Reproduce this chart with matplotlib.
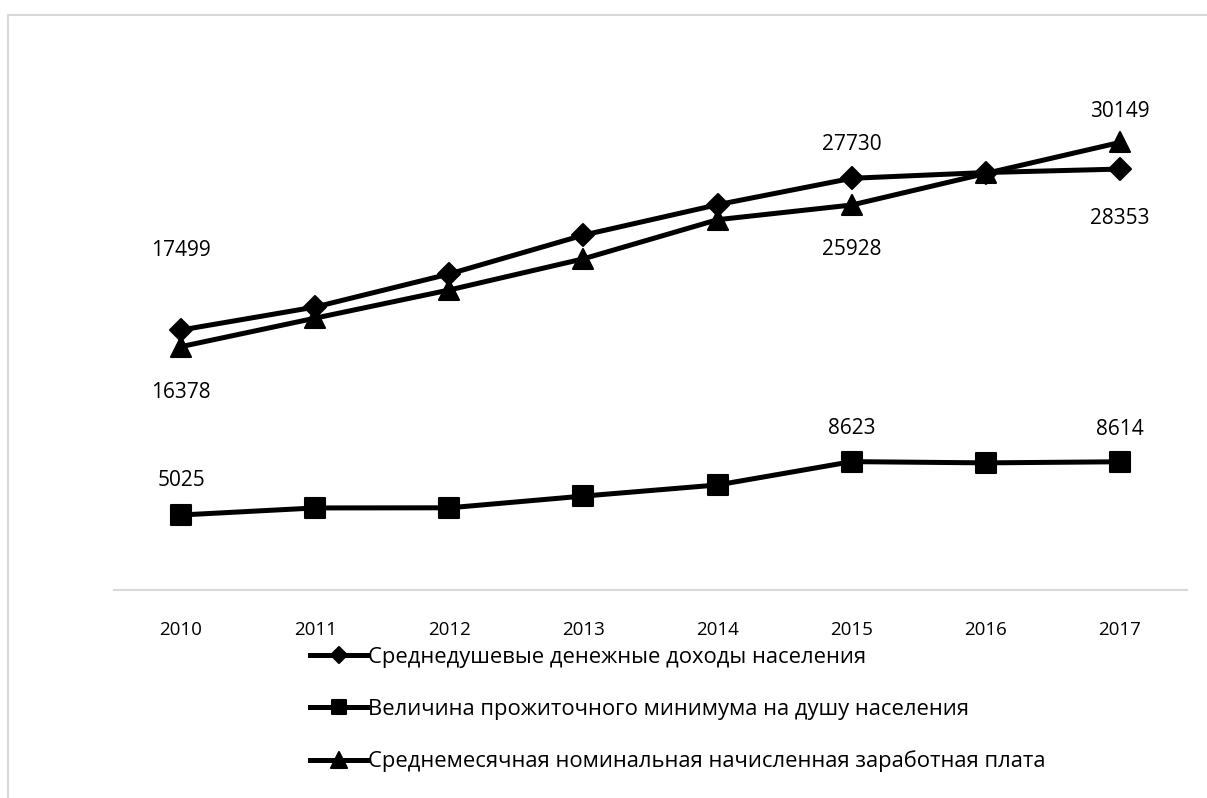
import matplotlib
matplotlib.use("Agg")
import matplotlib.pyplot as plt
from matplotlib.patches import Rectangle
from matplotlib.markers import MarkerStyle

years = ["2010", "2011", "2012", "2013", "2014", "2015", "2016", "2017"]
income = [17499, 19050, 21280, 23900, 25950, 27730, 28120, 28353]
subsistence = [5025, 5500, 5510, 6300, 7050, 8623, 8540, 8614]
salary = [16378, 18300, 20200, 22300, 24940, 25928, 28060, 30149]

names = ["Среднедушевые денежные доходы населения",
         "Величина прожиточного минимума на душу населения",
         "Среднемесячная номинальная начисленная заработная плата"]

# (series index, point index, offset in px: dy positive up)
labels = [(0, 0, 80), (0, 5, 34), (0, 7, -49),
          (1, 0, 34), (1, 5, 33), (1, 7, 32),
          (2, 0, -46), (2, 5, -44), (2, 7, 31)]

plt.rcParams['font.family'] = ['Open Sans', 'DejaVu Sans']

W, H = 1207, 798
fig = plt.figure(figsize=(W / 100, H / 100), dpi=100)
fig.patch.set_facecolor('white')
fig.add_artist(Rectangle((8 / W, -0.1), 1.2, 1 - 15 / H + 0.1, transform=fig.transFigure,
                         fill=False, edgecolor='#d9d9d9', linewidth=1.5))

ax = fig.add_axes([114 / W, 1 - 589.5 / H, (1187 - 114) / W, (589.5 - 70.5) / H])
x = list(range(len(years)))
series = [income, subsistence, salary]
markers = ['D', 's', '^']
msizes = [11, 14, 15]
lines = []
for vals, m, ms, nm in zip(series, markers, msizes, names):
    ln, = ax.plot(x, vals, color='black', lw=3.6, marker=MarkerStyle(m, joinstyle='round'),
                  markersize=ms, markerfacecolor='black', markeredgecolor='black',
                  markeredgewidth=1.5, solid_joinstyle='round', label=nm)
    lines.append(ln)

for si, pi, dy in labels:
    v = series[si][pi]
    ax.annotate(str(v), (x[pi], v), xytext=(0, dy * 0.72), textcoords='offset points',
                ha='center', va='center', fontsize=15, color='black')

ax.set_xlim(-0.5, len(years) - 0.5)
ax.set_ylim(0, 35000)
ax.set_yticks([])
ax.set_xticks(x)
ax.set_xticklabels(years, fontsize=13.5)
ax.tick_params(axis='x', length=0, pad=23)
for s in ['top', 'right', 'left']:
    ax.spines[s].set_visible(False)
ax.spines['bottom'].set_color('#d9d9d9')
ax.spines['bottom'].set_linewidth(1.5)

leg = fig.legend(handles=lines, labels=names, loc='upper left',
                 bbox_to_anchor=(299 / W, 1 - 636 / H), frameon=False, fontsize=15.8,
                 handlelength=2.6, handletextpad=0.05, labelspacing=1.4, borderpad=0,
                 markerscale=0.75)

fig.savefig('out.png', dpi=100, facecolor='white')
